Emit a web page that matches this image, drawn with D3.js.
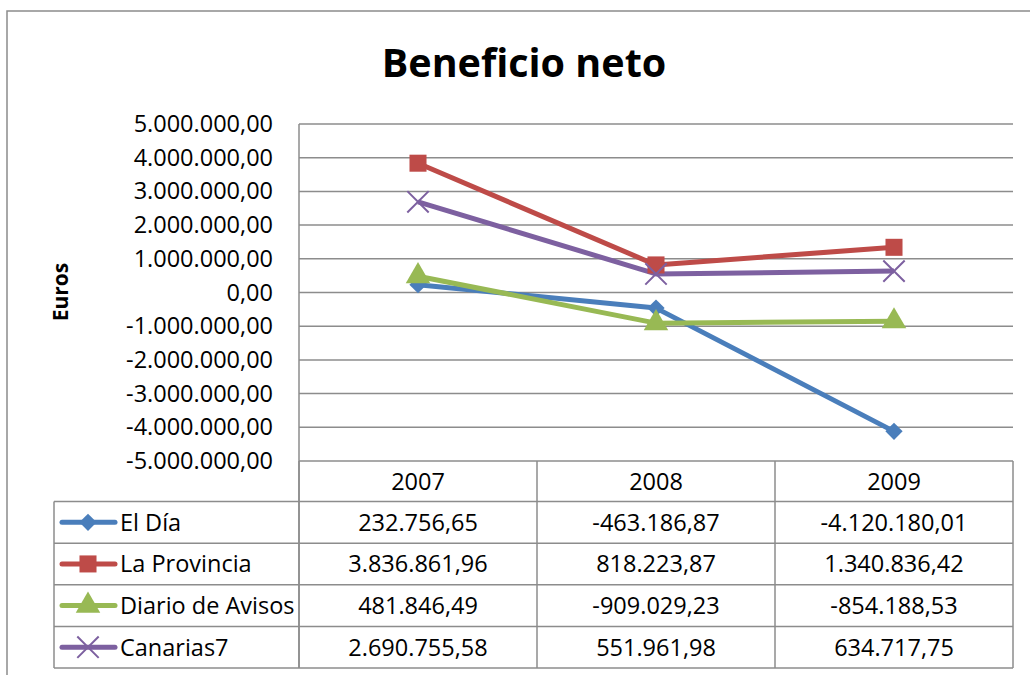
<!DOCTYPE html>
<html>
<head>
<meta charset="utf-8">
<script src="https://cdn.jsdelivr.net/npm/d3@7"></script>
<style>
  body { margin: 0; background: #fff; }
  svg { display: block; font-family: "Open Sans", sans-serif; }
</style>
</head>
<body>
<div id="chart"></div>
<script>
// Daten
const years = ["2007", "2008", "2009"];
const seriesNames = ["El Día", "La Provincia", "Diario de Avisos", "Canarias7"];
const elDia = [232756.65, -463186.87, -4120180.01];
const laProvincia = [3836861.96, 818223.87, 1340836.42];
const diarioAvisos = [481846.49, -909029.23, -854188.53];
const canarias7 = [2690755.58, 551961.98, 634717.75];
const yTicks = [5000000, 4000000, 3000000, 2000000, 1000000, 0, -1000000, -2000000, -3000000, -4000000, -5000000];

const colors = ["#4a7ebb", "#be4b48", "#98b954", "#7d60a0"];
const markers = ["diamond", "square", "triangle", "cross"];
const series = [elDia, laProvincia, diarioAvisos, canarias7].map((v, i) => ({
  name: seriesNames[i], values: v, color: colors[i], marker: markers[i]
}));

const width = 1030, height = 675;
const plotLeft = 299, plotRight = 1013, plotTop = 124, plotBottom = 461;
const tableLeft = 54, headerBottom = 501.5, tableBottom = 668;
const gridColor = "#8c8c8c";
const fontSize = "23.5px";

const es = d3.formatLocale({ decimal: ",", thousands: ".", grouping: [3], currency: ["", " €"], minus: "-" });
const fmt = es.format(",.2f");

const svg = d3.select("#chart").append("svg")
  .attr("width", width)
  .attr("height", height);

// Rahmen
svg.append("rect")
  .attr("x", 7).attr("y", 11)
  .attr("width", 1200).attr("height", 1000)
  .attr("fill", "none")
  .attr("stroke", gridColor)
  .attr("stroke-width", 1.5);

// Titel
svg.append("text")
  .attr("x", 524).attr("y", 77)
  .attr("text-anchor", "middle")
  .style("font-size", "39.5px")
  .style("font-weight", "bold")
  .text("Beneficio neto");

const x = d3.scaleBand().domain(years).range([plotLeft, plotRight]);
const y = d3.scaleLinear().domain([-5000000, 5000000]).range([plotBottom, plotTop]);

// Gitterlinien
svg.append("g")
  .selectAll("line")
  .data(yTicks)
  .enter()
  .append("line")
  .attr("x1", plotLeft).attr("x2", plotRight)
  .attr("y1", d => y(d)).attr("y2", d => y(d))
  .attr("stroke", gridColor)
  .attr("stroke-width", 1.5);

// y-Achse
svg.append("g")
  .attr("transform", `translate(${plotLeft},0)`)
  .call(d3.axisLeft(y).tickValues(yTicks).tickFormat(fmt).tickSize(0).tickPadding(26))
  .call(g => g.select(".domain").remove())
  .selectAll("text")
  .style("font-family", "'Open Sans', sans-serif")
  .style("font-size", fontSize)
  .attr("fill", "#000");

svg.append("line")
  .attr("x1", plotLeft).attr("x2", plotLeft)
  .attr("y1", plotTop).attr("y2", tableBottom)
  .attr("stroke", gridColor).attr("stroke-width", 1.5);

svg.append("text")
  .attr("transform", "translate(68,292) rotate(-90)")
  .attr("text-anchor", "middle")
  .style("font-size", "21px")
  .style("font-weight", "bold")
  .text("Euros");

// Tabelle
const rowY = d3.scaleBand().domain(seriesNames).range([headerBottom, tableBottom]);

const colEdges = [x.range()[0]].concat(years.map(d => x(d) + x.bandwidth()));
svg.append("g")
  .selectAll("line")
  .data(colEdges)
  .enter()
  .append("line")
  .attr("x1", d => d).attr("x2", d => d)
  .attr("y1", plotBottom).attr("y2", tableBottom)
  .attr("stroke", gridColor).attr("stroke-width", 1.5);

svg.append("line")
  .attr("x1", tableLeft).attr("x2", tableLeft)
  .attr("y1", headerBottom).attr("y2", tableBottom)
  .attr("stroke", gridColor).attr("stroke-width", 1.5);

const rowEdges = seriesNames.map(d => rowY(d)).concat([tableBottom]);
svg.append("g")
  .selectAll("line")
  .data(rowEdges)
  .enter()
  .append("line")
  .attr("x1", tableLeft).attr("x2", plotRight)
  .attr("y1", d => d).attr("y2", d => d)
  .attr("stroke", gridColor).attr("stroke-width", 1.5);

// Jahresköpfe
svg.append("g")
  .selectAll("text")
  .data(years)
  .enter()
  .append("text")
  .attr("x", d => x(d) + x.bandwidth() / 2)
  .attr("y", (plotBottom + headerBottom) / 2)
  .attr("dy", "0.36em")
  .attr("text-anchor", "middle")
  .style("font-size", fontSize)
  .text(d => d);

function markerPath(type) {
  if (type === "diamond") return d3.symbol().type(d3.symbolDiamond2).size(190)();
  if (type === "square") return d3.symbol().type(d3.symbolSquare).size(290)();
  if (type === "triangle") return d3.symbol().type(d3.symbolTriangle).size(260)();
  return d3.symbol().type(d3.symbolX).size(300)();
}

function drawMarker(g, type, color) {
  const p = g.append("path").attr("d", markerPath(type));
  if (type === "cross") {
    p.attr("fill", "none").attr("stroke", color).attr("stroke-width", 2);
  } else {
    p.attr("fill", color);
  }
}

// Datenzeilen
const rows = svg.append("g")
  .selectAll("g")
  .data(series)
  .enter()
  .append("g")
  .attr("transform", d => `translate(0,${rowY(d.name) + rowY.bandwidth() / 2})`);

rows.append("line")
  .attr("x1", 62).attr("x2", 115)
  .attr("stroke", d => d.color)
  .attr("stroke-width", 5)
  .attr("stroke-linecap", "round");

rows.each(function (d) {
  const g = d3.select(this).append("g").attr("transform", "translate(88,0)");
  drawMarker(g, d.marker, d.color);
});

rows.append("text")
  .attr("x", 120)
  .attr("dy", "0.36em")
  .style("font-size", fontSize)
  .text(d => d.name);

rows.selectAll(".val")
  .data(d => d.values)
  .enter()
  .append("text")
  .attr("class", "val")
  .attr("x", (v, i) => x(years[i]) + x.bandwidth() / 2)
  .attr("dy", "0.36em")
  .attr("text-anchor", "middle")
  .style("font-size", fontSize)
  .text(v => fmt(v));

// Linien
const line = d3.line()
  .x((v, i) => x(years[i]) + x.bandwidth() / 2)
  .y(v => y(v));

svg.append("g")
  .selectAll("path")
  .data(series)
  .enter()
  .append("path")
  .attr("d", d => line(d.values))
  .attr("fill", "none")
  .attr("stroke", d => d.color)
  .attr("stroke-width", 5)
  .attr("stroke-linejoin", "round");

// Marker
series.forEach(s => {
  svg.append("g")
    .selectAll("g")
    .data(s.values)
    .enter()
    .append("g")
    .attr("transform", (v, i) => `translate(${x(years[i]) + x.bandwidth() / 2},${y(v)})`)
    .each(function () { drawMarker(d3.select(this), s.marker, s.color); });
});
</script>
</body>
</html>
